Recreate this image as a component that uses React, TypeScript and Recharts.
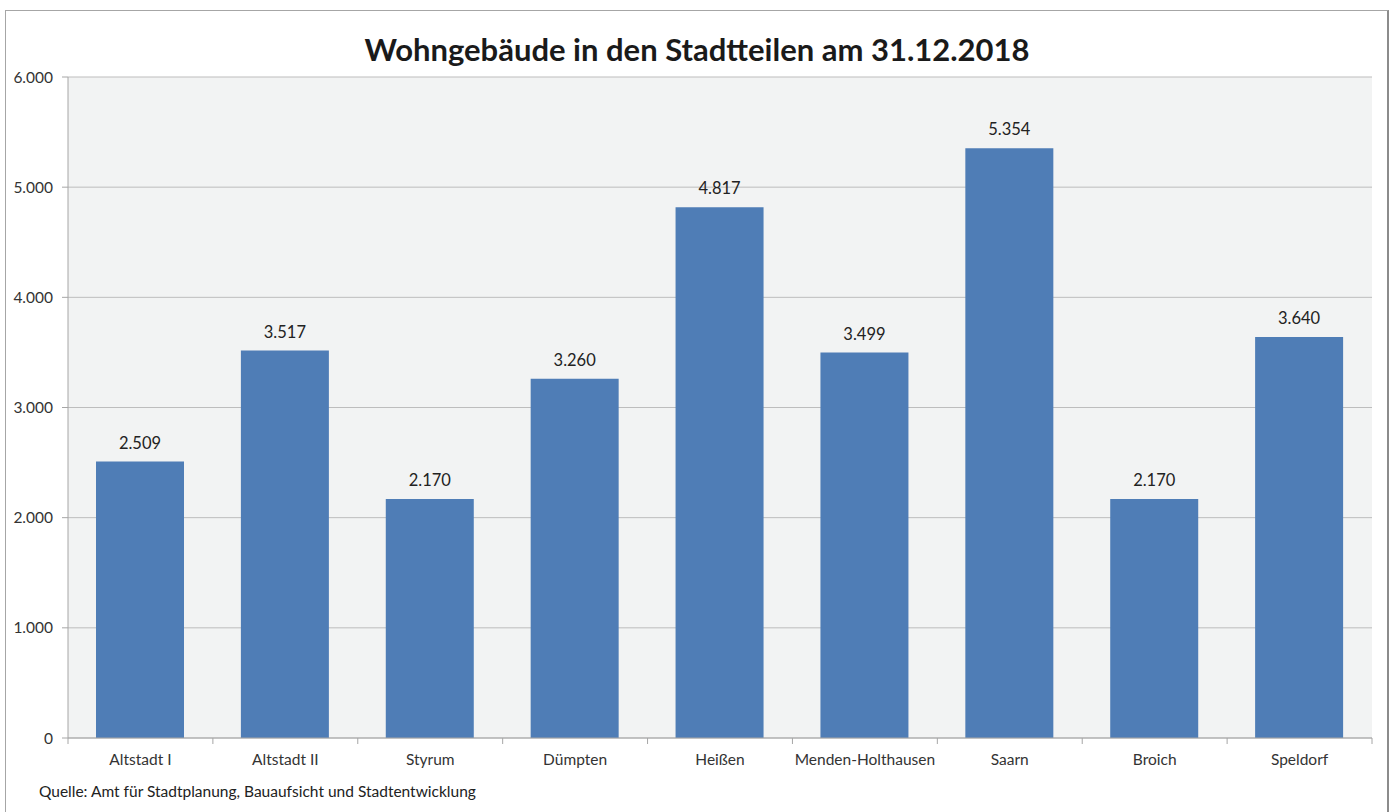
import { BarChart, Bar, XAxis, YAxis, CartesianGrid, LabelList } from 'recharts';

const districts = ['Altstadt I', 'Altstadt II', 'Styrum', 'Dümpten', 'Heißen', 'Menden-Holthausen', 'Saarn', 'Broich', 'Speldorf'];
const buildings = [2509, 3517, 2170, 3260, 4817, 3499, 5354, 2170, 3640];
const yTicks = [0, 1000, 2000, 3000, 4000, 5000, 6000];

const chartData = districts.map((name, i) => ({ name, value: buildings[i] }));

const fmt = (v: number) => v.toLocaleString('de-DE');

const FONT = 'Lato, "Open Sans", sans-serif';
const PLOT_LEFT = 68;
const PLOT_RIGHT = 1372;
const BAND = (PLOT_RIGHT - PLOT_LEFT) / districts.length;

// Excel-Stil: Tickstriche zwischen den Kategorien statt in der Mitte
const CategoryTick = ({ x, y, payload, index }: any) => {
  return (
    <g>
      <line x1={x - BAND / 2} y1={y - 8} x2={x - BAND / 2} y2={y - 2} stroke="#a6a6a6" />
      {index === districts.length - 1 && (
        <line x1={x + BAND / 2} y1={y - 8} x2={x + BAND / 2} y2={y - 2} stroke="#a6a6a6" />
      )}
      <text x={x} y={y + 19} textAnchor="middle" fontSize={15.5} fill="#333" fontFamily={FONT}>
        {payload.value}
      </text>
    </g>
  );
};

export default function App() {
  return (
    <div style={{ position: 'absolute', left: 0, top: 0, width: 1394, height: 812, background: '#fff', overflow: 'hidden' }}>
      <div
        style={{
          position: 'absolute',
          left: 5,
          top: 10,
          width: 1381,
          height: 820,
          borderTop: '1px solid #a6a6a6',
          borderLeft: '1px solid #a6a6a6',
          borderRight: '2px solid #8c8c8c',
        }}
      />
      <div
        style={{
          position: 'absolute',
          left: 0,
          width: 1394,
          top: 30,
          textAlign: 'center',
          fontFamily: FONT,
          fontWeight: 700,
          fontSize: 31,
          lineHeight: '38px',
          color: '#1a1a1a',
        }}
      >
        Wohngebäude in den Stadtteilen am 31.12.2018
      </div>
      <div style={{ position: 'absolute' as const, left: 0, top: 0 }}>
        <BarChart
          width={1394}
          height={812}
          data={chartData}
          margin={{ top: 77, right: 1394 - PLOT_RIGHT, left: 8, bottom: 44 }}
        >
          <CartesianGrid vertical={false} stroke="#bdbdbd" fill="#f2f3f3" />
          <XAxis
            dataKey="name"
            height={30}
            tickLine={false}
            stroke="#a6a6a6"
            tick={<CategoryTick />}
            interval={0}
          />
          <YAxis
            width={60}
            domain={[0, 6000]}
            ticks={yTicks}
            tickFormatter={fmt}
            stroke="#a6a6a6"
            tickSize={6}
            tickMargin={9}
            tick={{ fontSize: 15.5, fill: '#333', fontFamily: FONT }}
          />
          <Bar dataKey="value" fill="#4f7db6" barSize={88} isAnimationActive={false}>
            <LabelList
              dataKey="value"
              position="top"
              offset={13}
              formatter={(v: any) => fmt(Number(v))}
              style={{ fontSize: 16.5, fill: '#222', fontFamily: FONT }}
            />
          </Bar>
        </BarChart>
      </div>
      <div
        style={{
          position: 'absolute',
          left: 39,
          top: 782,
          fontFamily: FONT,
          fontSize: 15.5,
          color: '#222',
        }}
      >
        Quelle: Amt für Stadtplanung, Bauaufsicht und Stadtentwicklung
      </div>
    </div>
  );
}
